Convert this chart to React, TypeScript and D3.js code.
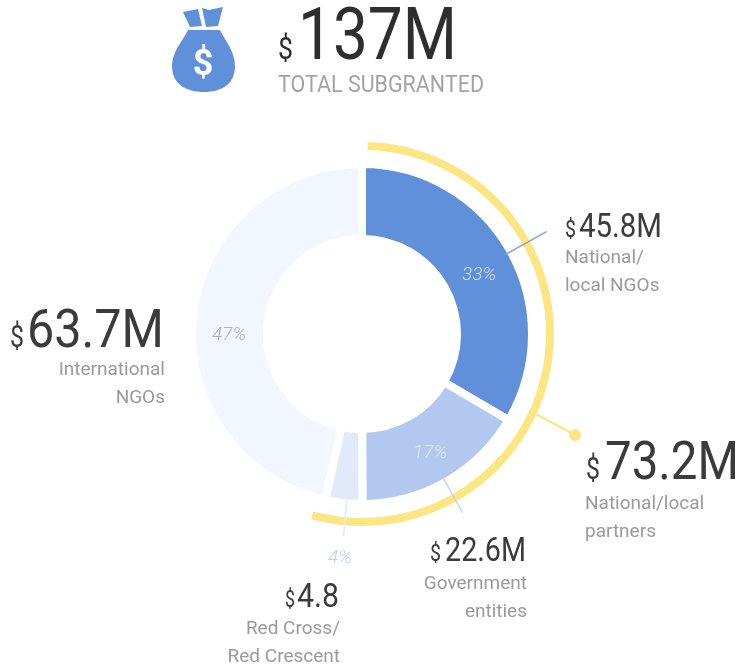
import React from 'react';
import * as d3 from 'd3';

const amounts = [45.8, 22.6, 4.8, 63.7];
const amountUnits = ['M', 'M', '', 'M'];
const sublabels = [['National/', 'local NGOs'], ['Government', 'entities'], ['Red Cross/', 'Red Crescent'], ['International', 'NGOs']];
const shares = ['33%', '17%', '4%', '47%'];
const sliceColors = ['#5f90d9', '#b3c8ee', '#e1eafa', '#f2f6fe'];
const shareColors = ['#d3dff6', '#dce6f8', '#b9cdf0', '#b2b2b2'];
const partnerAmount = 73.2;
const partnerLines = ['National/local', 'partners'];
const totalAmount = 137;

const width = 740;
const height = 668;
const cx = 362;
const cy = 334;
const outer = 170;
const inner = 95;

// dollar sign x, number x + width, baseline, font sizes, sublabel anchor
type Place = { dx: number; dw: number; nx: number; nw: number; y: number; size: number; dsize: number; anchor: 'start' | 'end'; lx: number; ly: number };

const places: Place[] = [
  { dx: 565, dw: 11, nx: 579, nw: 83, y: 237, size: 33, dsize: 23, anchor: 'start', lx: 565, ly: 263 },
  { dx: 430, dw: 11, nx: 445, nw: 81, y: 561, size: 33, dsize: 23, anchor: 'end', lx: 527, ly: 589 },
  { dx: 285, dw: 10, nx: 297, nw: 42, y: 607, size: 33, dsize: 23, anchor: 'end', lx: 340, ly: 634 },
  { dx: 10, dw: 14, nx: 27, nw: 137, y: 347, size: 54, dsize: 32, anchor: 'end', lx: 165, ly: 375 },
];
const partnerPlace: Place = { dx: 586, dw: 14, nx: 605, nw: 134, y: 479, size: 54, dsize: 32, anchor: 'start', lx: 585, ly: 509 };
const sharePos = [[479, 280], [430, 458], [340, 563], [229, 340]];

const polar = (deg: number, r: number) => {
  const a = (deg * Math.PI) / 180;
  return [cx + r * Math.sin(a), cy - r * Math.cos(a)];
};

function Amount({ p, text, lines }: { p: Place; text: string; lines: string[] }) {
  return (
    <g>
      <text x={p.dx} y={p.y} fontSize={p.dsize} fill="#3a3a3a" textLength={p.dw} lengthAdjust="spacingAndGlyphs">$</text>
      <text x={p.nx} y={p.y} fontSize={p.size} fill="#3a3a3a" textLength={p.nw} lengthAdjust="spacingAndGlyphs">{text}</text>
      {lines.map((ln, i) => (
        <text key={ln} x={p.lx} y={p.ly + i * 28} textAnchor={p.anchor} fontSize={19} fill="#9a9a9a">{ln}</text>
      ))}
    </g>
  );
}

export default function App() {
  const pie = d3.pie<number>().sort(null).value((d) => d);
  const arcs = pie(amounts);
  const arc = d3.arc<d3.PieArcDatum<number>>().innerRadius(inner).outerRadius(outer);
  const partnerEnd = ((amounts[0] + amounts[1] + amounts[2]) / d3.sum(amounts)) * Math.PI * 2;
  const yellow = d3.arc()({ innerRadius: 188, outerRadius: 188, startAngle: 0.03, endAngle: partnerEnd + 0.05 } as any) as string;

  // leaders run radially out of the slices
  const leaders = [
    { from: polar(61, 164), to: polar(61, 211), c: '#7da5e2' },
    { from: polar(150.6, 166), to: polar(150.6, 205), c: '#c5d4ee' },
    { from: polar(185.2, 166), to: polar(185.2, 203), c: '#e1eafa' },
  ];

  return (
    <svg width={width} height={height} style={{ position: 'absolute', left: 0, top: 0, fontFamily: 'Roboto, sans-serif' }}>
      <defs>
        <filter id="soft" x="0" y="0" width="100%" height="100%">
          <feGaussianBlur stdDeviation="0.5" />
        </filter>
      </defs>
      <g filter="url(#soft)">
        <g transform={`translate(${cx},${cy})`}>
          {arcs.map((a, i) => (
            <path key={shares[i]} d={arc(a) as string} fill={sliceColors[i]} stroke="#fff" strokeWidth={8} />
          ))}
        </g>
        <path d={yellow} transform={`translate(${cx},${cy})`} fill="none" stroke="#fce683" strokeWidth={8} strokeLinecap="round" />
        {leaders.map((l, i) => (
          <line key={i} x1={l.from[0]} y1={l.from[1]} x2={l.to[0]} y2={l.to[1]} stroke={l.c} strokeWidth={1.5} />
        ))}
        <line x1={536} y1={414} x2={575} y2={435} stroke="#fce683" strokeWidth={2.5} />
        <circle cx={575} cy={435} r={6} fill="#fce683" />

        {shares.map((s, i) => (
          <text key={s} x={sharePos[i][0]} y={sharePos[i][1]} textAnchor="middle" fontSize={19} fontStyle="italic" fontWeight={300} fill={shareColors[i]}>{s}</text>
        ))}

        {places.map((p, i) => (
          <Amount key={sublabels[i][0]} p={p} text={`${amounts[i]}${amountUnits[i]}`} lines={sublabels[i]} />
        ))}
        <Amount p={partnerPlace} text={`${partnerAmount}M`} lines={partnerLines} />

        {/* money bag */}
        <g fill="#5f90d9">
          <path d="M183 12 L198 9 L202 26 L190 27 Z" />
          <path d="M202 8 L209 10 L223 7 L218 26 L206 27 Z" />
          <path d="M188 30 L220 30 C226 42 235 52 235 66 C235 84 222 92 204 92 C186 92 172 84 172 66 C172 52 182 42 188 30 Z" />
        </g>
        <text x={203} y={75} textAnchor="middle" fontSize={36} fontWeight={700} fill="#fff">$</text>

        <text x={278} y={59} fontSize={32} fill="#2f2f2f" textLength={15} lengthAdjust="spacingAndGlyphs">$</text>
        <text x={298} y={59} fontSize={73} fill="#2f2f2f" textLength={159} lengthAdjust="spacingAndGlyphs">{`${totalAmount}M`}</text>
        <text x={278} y={92} fontSize={23} fill="#a3a3a3" textLength={206} lengthAdjust="spacingAndGlyphs">TOTAL SUBGRANTED</text>
      </g>
    </svg>
  );
}
